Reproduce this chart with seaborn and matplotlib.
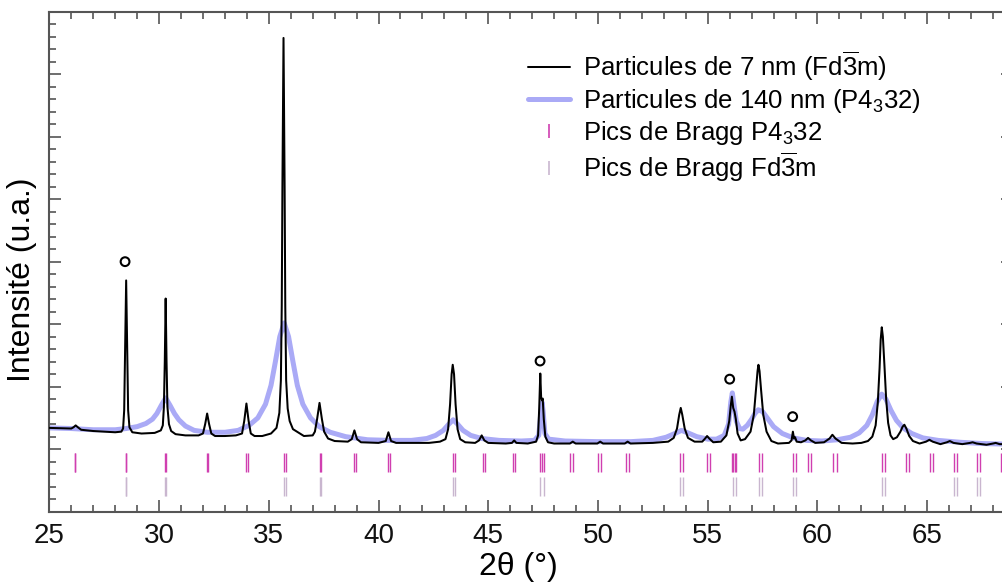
import numpy as np
import pandas as pd
import seaborn as sns
import matplotlib
matplotlib.use('Agg')
import matplotlib.pyplot as plt
from matplotlib.lines import Line2D
from matplotlib.ticker import MultipleLocator

# Diffractogram, 7 nm particles (Fd-3m)
tth_7nm = [25.00, 25.50, 26.00, 26.10, 26.20, 26.30, 26.45, 27.00, 27.50, 28.00,
           28.28, 28.36, 28.41, 28.45, 28.50, 28.55, 28.59, 28.65, 28.78, 29.20,
           29.80, 30.08, 30.17, 30.22, 30.26, 30.30, 30.34, 30.38, 30.45, 30.55,
           30.75, 31.20, 31.80, 32.00, 32.10, 32.19, 32.28, 32.38, 32.55, 33.00,
           33.50, 33.78, 33.88, 33.98, 34.08, 34.18, 34.35, 34.70, 35.10, 35.35,
           35.48, 35.55, 35.59, 35.62, 35.67, 35.72, 35.75, 35.79, 35.86, 35.95,
           36.10, 36.60, 37.00, 37.10, 37.20, 37.31, 37.42, 37.52, 37.70, 38.00,
           38.60, 38.78, 38.90, 39.02, 39.20, 40.00, 40.33, 40.45, 40.57, 40.80,
           41.50, 42.30, 42.80, 43.05, 43.17, 43.26, 43.33, 43.38, 43.44, 43.51,
           43.60, 43.72, 43.95, 44.40, 44.58, 44.70, 44.82, 45.00, 45.80, 46.08,
           46.18, 46.28, 46.80, 47.18, 47.27, 47.32, 47.37, 47.41, 47.45, 47.48,
           47.53, 47.60, 47.72, 48.00, 48.72, 48.85, 48.98, 49.97, 50.10, 50.23,
           51.22, 51.35, 51.48, 52.50, 53.20, 53.45, 53.60, 53.70, 53.77, 53.84,
           53.95, 54.10, 54.40, 54.75, 54.88, 54.97, 55.07, 55.25, 55.60, 55.85,
           55.98, 56.05, 56.10, 56.16, 56.22, 56.28, 56.36, 56.50, 56.70, 56.95,
           57.10, 57.20, 57.27, 57.31, 57.36, 57.43, 57.53, 57.68, 57.90, 58.20,
           58.70, 58.82, 58.88, 58.93, 58.98, 59.05, 59.25, 59.45, 59.57, 59.70,
           59.90, 60.30, 60.55, 60.68, 60.82, 61.10, 61.60, 62.00, 62.30, 62.50,
           62.65, 62.75, 62.83, 62.88, 62.93, 62.98, 63.05, 63.13, 63.22, 63.33,
           63.45, 63.62, 63.78, 63.88, 63.96, 64.05, 64.18, 64.35, 64.65, 64.95,
           65.10, 65.25, 65.60, 65.90, 66.03, 66.20, 66.60, 66.95, 67.07, 67.25,
           67.70, 68.00, 68.12, 68.30, 68.60, 68.95]
int_7nm = [1.34, 1.335, 1.33, 1.35, 1.38, 1.35, 1.31, 1.29, 1.28, 1.27,
           1.28, 1.33, 1.62, 2.50, 3.70, 2.50, 1.62, 1.35, 1.27, 1.25,
           1.26, 1.30, 1.38, 1.68, 2.40, 3.41, 2.40, 1.68, 1.40, 1.29,
           1.24, 1.22, 1.22, 1.25, 1.40, 1.57, 1.40, 1.25, 1.21, 1.21,
           1.22, 1.25, 1.45, 1.73, 1.45, 1.25, 1.21, 1.21, 1.25, 1.34,
           1.58, 2.10, 3.30, 5.20, 7.58, 5.20, 3.30, 2.10, 1.65, 1.45,
           1.32, 1.21, 1.22, 1.28, 1.48, 1.74, 1.48, 1.28, 1.17, 1.13,
           1.12, 1.16, 1.30, 1.16, 1.11, 1.10, 1.13, 1.27, 1.13, 1.10,
           1.10, 1.10, 1.12, 1.16, 1.32, 1.72, 2.20, 2.35, 2.20, 1.72,
           1.32, 1.16, 1.11, 1.10, 1.14, 1.22, 1.14, 1.10, 1.09, 1.10,
           1.14, 1.10, 1.09, 1.12, 1.22, 1.65, 2.21, 1.82, 1.78, 1.81,
           1.48, 1.20, 1.11, 1.09, 1.09, 1.12, 1.09, 1.09, 1.12, 1.09,
           1.09, 1.12, 1.09, 1.10, 1.12, 1.18, 1.33, 1.55, 1.66, 1.55,
           1.33, 1.18, 1.12, 1.12, 1.17, 1.21, 1.17, 1.11, 1.12, 1.22,
           1.45, 1.70, 1.84, 1.66, 1.60, 1.48, 1.25, 1.14, 1.16, 1.28,
           1.55, 1.95, 2.25, 2.35, 2.25, 1.95, 1.55, 1.28, 1.13, 1.09,
           1.10, 1.14, 1.28, 1.17, 1.19, 1.12, 1.11, 1.14, 1.18, 1.14,
           1.10, 1.11, 1.17, 1.23, 1.17, 1.10, 1.09, 1.10, 1.13, 1.20,
           1.38, 1.75, 2.30, 2.75, 2.95, 2.80, 2.35, 1.80, 1.42, 1.22,
           1.16, 1.19, 1.28, 1.36, 1.39, 1.33, 1.21, 1.13, 1.09, 1.12,
           1.15, 1.12, 1.08, 1.11, 1.13, 1.10, 1.08, 1.10, 1.11, 1.09,
           1.07, 1.09, 1.10, 1.08, 1.08, 1.08]

# Diffractogram, 140 nm particles (P4_3 32)
tth_140nm = [25.00, 26.00, 27.00, 28.00, 28.50, 29.00, 29.40, 29.70, 29.90, 30.10,
             30.30, 30.50, 30.70, 30.90, 31.20, 31.60, 32.20, 33.00, 33.60, 34.10,
             34.50, 34.85, 35.10, 35.30, 35.50, 35.70, 35.90, 36.10, 36.30, 36.55,
             36.90, 37.30, 37.80, 38.50, 39.50, 40.50, 41.50, 42.20, 42.60, 42.95,
             43.20, 43.40, 43.60, 43.85, 44.20, 44.70, 45.50, 46.50, 47.10, 47.30,
             47.40, 47.45, 47.50, 47.58, 47.75, 48.50, 50.00, 51.50, 52.50, 53.10,
             53.50, 53.80, 54.10, 54.50, 55.00, 55.40, 55.75, 55.95, 56.05, 56.12,
             56.20, 56.30, 56.45, 56.60, 56.80, 57.00, 57.15, 57.30, 57.50, 57.75,
             58.00, 58.40, 58.90, 59.50, 60.20, 60.90, 61.50, 61.90, 62.25, 62.50,
             62.72, 62.93, 63.12, 63.35, 63.60, 63.90, 64.30, 64.80, 65.50, 66.50,
             67.50, 68.60, 68.95]
int_140nm = [1.34, 1.33, 1.31, 1.31, 1.33, 1.36, 1.41, 1.48, 1.57, 1.70,
             1.82, 1.70, 1.57, 1.47, 1.37, 1.30, 1.27, 1.27, 1.30, 1.38,
             1.50, 1.72, 2.02, 2.40, 2.80, 3.02, 2.80, 2.40, 2.02, 1.72,
             1.50, 1.36, 1.27, 1.20, 1.15, 1.14, 1.14, 1.17, 1.22, 1.30,
             1.40, 1.47, 1.40, 1.30, 1.22, 1.17, 1.14, 1.13, 1.14, 1.22,
             1.60, 1.75, 1.60, 1.25, 1.16, 1.13, 1.12, 1.12, 1.14, 1.19,
             1.25, 1.30, 1.26, 1.20, 1.16, 1.16, 1.22, 1.40, 1.75, 1.90,
             1.70, 1.45, 1.33, 1.32, 1.38, 1.48, 1.57, 1.63, 1.60, 1.48,
             1.36, 1.25, 1.18, 1.14, 1.13, 1.15, 1.19, 1.26, 1.38, 1.55,
             1.76, 1.88, 1.80, 1.62, 1.46, 1.34, 1.25, 1.18, 1.14, 1.11,
             1.09, 1.08, 1.08]

# Bragg positions (2theta, doublets Ka1/Ka2)
bragg_p4332 = [26.15, 26.19, 28.47, 28.51, 30.25, 30.33, 32.17, 32.25, 33.96, 34.05,
               35.68, 35.77, 37.31, 37.40, 38.88, 38.97, 40.43, 40.52, 43.37, 43.47,
               44.75, 44.85, 46.11, 46.22, 47.36, 47.45, 47.54, 48.74, 48.85, 50.02,
               50.14, 51.27, 51.39, 53.75, 53.89, 54.97, 55.09, 56.11, 56.17, 56.23,
               56.30, 57.32, 57.45, 58.90, 59.04, 59.55, 59.70, 60.73, 60.88, 62.96,
               63.08, 64.03, 64.16, 65.11, 65.26, 66.21, 66.36, 67.26, 67.41, 68.37,
               68.52]
bragg_fd3m = [28.47, 28.51, 30.25, 30.33, 35.68, 35.77, 37.31, 37.40, 43.37, 43.47,
              47.37, 47.52, 53.75, 53.89, 56.15, 56.30, 57.32, 57.45, 58.90, 59.04,
              62.96, 63.08, 66.21, 66.36, 67.26, 67.41]

# impurity markers (open circles)
circ_x = [28.45, 47.36, 56.00, 58.87]
circ_y = [4.00, 2.41, 2.12, 1.52]

c_blue = '#aaaaf6'
c_p4332 = '#d03fb0'
c_fd3m = '#c9b6cf'
c_axis = '#555555'

sns.set_theme(style='ticks')
plt.rcParams['font.family'] = ['Liberation Sans', 'DejaVu Sans']
plt.rcParams['text.color'] = 'black'
plt.rcParams['mathtext.fontset'] = 'custom'
plt.rcParams['mathtext.rm'] = 'Liberation Sans'
plt.rcParams['mathtext.it'] = 'Liberation Sans:italic'
plt.rcParams['mathtext.bf'] = 'Liberation Sans:bold'

fig = plt.figure(figsize=(10.03, 5.82), dpi=100)
# right spine sits just outside the picture, as in the original
ax = fig.add_axes([0.0492, 0.1209, 0.9610, 0.8590])

df_140 = pd.DataFrame({'tth': tth_140nm, 'I': int_140nm})
df_7 = pd.DataFrame({'tth': tth_7nm, 'I': int_7nm})
sns.lineplot(data=df_140, x='tth', y='I', ax=ax, color=c_blue, lw=3.6,
             estimator=None, sort=False, zorder=2)
sns.lineplot(data=df_7, x='tth', y='I', ax=ax, color='black', lw=1.45,
             estimator=None, sort=False, zorder=3)

ax.vlines(bragg_p4332, 0.64, 0.944, color=c_p4332, lw=1.0)
ax.vlines(bragg_fd3m, 0.256, 0.56, color=c_fd3m, lw=1.0)

sns.scatterplot(x=circ_x, y=circ_y, ax=ax, marker='o', s=40,
                facecolor='none', edgecolor='black', linewidth=1.5, zorder=4)

ax.set_xlim(25, 68.92)
ax.set_ylim(0, 8)
ax.xaxis.set_major_locator(MultipleLocator(5))
ax.xaxis.set_minor_locator(MultipleLocator(1))
ax.yaxis.set_major_locator(MultipleLocator(1))
ax.yaxis.set_minor_locator(MultipleLocator(0.2))
ax.tick_params(which='both', direction='in', top=True, right=True,
               labelleft=False, color=c_axis, width=1.2)
ax.tick_params(which='major', length=8.5)
ax.tick_params(which='minor', length=5)
ax.tick_params(axis='x', labelsize=20, pad=8, labelcolor='#111111')
for sp in ax.spines.values():
    sp.set_color(c_axis)
    sp.set_linewidth(1.5)
ax.set_xlabel('')
ax.set_ylabel('')

fig.text(518 / 1003, 1 - 567 / 582, '2θ (°)', fontsize=23, ha='center', va='center')
fig.text(22 / 1003, 1 - 280 / 582, 'Intensité (u.a.)', fontsize=23,
         rotation=90, ha='center', va='center')

handles = [Line2D([], [], color='black', lw=1.45),
           Line2D([], [], color=c_blue, lw=3.6),
           Line2D([], [], color=c_p4332, marker='|', ls='None', ms=10, mew=1.2),
           Line2D([], [], color=c_fd3m, marker='|', ls='None', ms=10, mew=1.2)]
labels = [r'Particules de 7 nm (Fd$\overline{3}$m)',
          r'Particules de 140 nm (P4$_{3}$32)',
          r'Pics de Bragg P4$_{3}$32',
          r'Pics de Bragg Fd$\overline{3}$m']
fig.legend(handles, labels, loc='upper left', bbox_to_anchor=(0.5264, 0.914),
           frameon=False, fontsize=18.5, handlelength=1.63, handletextpad=0.5,
           labelspacing=0.15, borderpad=0, borderaxespad=0)

fig.savefig('out.png', dpi=100)
